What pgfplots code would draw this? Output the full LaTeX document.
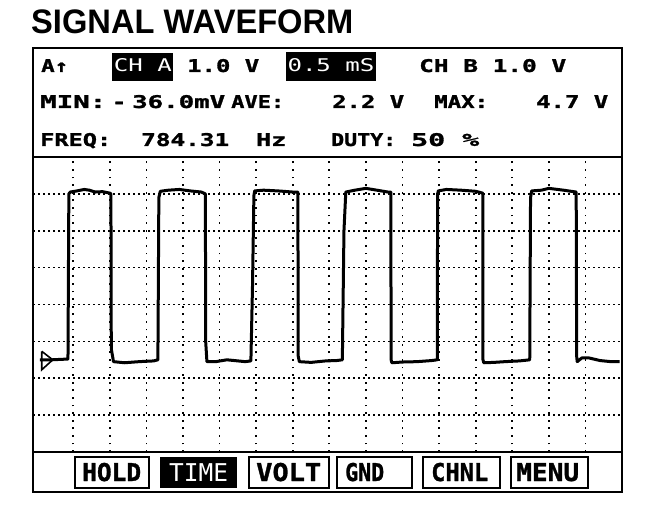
\documentclass[border=0pt]{standalone}
\usepackage{pgfplots}
\pgfplotsset{compat=1.18}
\usepackage{fontspec}
\setmainfont{Liberation Sans}
\newfontfamily\hdrb{DejaVu Sans Mono}[FakeBold=1.2]
\newfontfamily\hdr{DejaVu Sans Mono}
\newfontfamily\ttl{Liberation Sans}[FakeStretch=0.96]
% bold header chunk: width, text
\newcommand\HdT[2]{\resizebox{#1pt}{\height}{\hdrb\bfseries\fontsize{17.5}{17.5}\selectfont #2}}
\newcommand\HdW[2]{\resizebox{#1pt}{\height}{\hdr\fontsize{17.5}{17.5}\selectfont #2}}
\newcommand\BtT[2]{\resizebox{#1pt}{\height}{\hdrb\bfseries\fontsize{24.5}{24.5}\selectfont #2}}
\newcommand\BtW[2]{\resizebox{#1pt}{\height}{\hdr\fontsize{24.5}{24.5}\selectfont #2}}
\begin{document}
\begin{tikzpicture}
\useasboundingbox (0,0) rectangle (672pt,-526pt);
% title
\node[anchor=base west, inner sep=0pt] at (31pt,-34pt) {\ttl\bfseries\fontsize{34}{34}\selectfont SIGNAL WAVEFORM};
% outer frame
\draw[line width=2.8pt] (33pt,-48pt) rectangle (622pt,-492pt);
% header inverted boxes
\fill[black] (112pt,-53pt) rectangle (173pt,-81pt);
\fill[black] (286pt,-52pt) rectangle (376pt,-81pt);
% header row 1
\node[anchor=base west, inner sep=0pt] at (41pt,-72pt) {\HdT{27}{A↑}};
\node[anchor=base, inner sep=0pt, text=white] at (143pt,-72pt) {\HdW{58}{CH A}};
\node[anchor=base west, inner sep=0pt] at (187pt,-72pt) {\HdT{72}{1.0 V}};
\node[anchor=base, inner sep=0pt, text=white] at (331pt,-72pt) {\HdW{87}{0.5 mS}};
\node[anchor=base west, inner sep=0pt] at (419pt,-72pt) {\HdT{147}{CH B 1.0 V}};
% header row 2
\node[anchor=base west, inner sep=0pt] at (40pt,-108pt) {\HdT{66}{MIN:}};
\node[anchor=base west, inner sep=0pt] at (112pt,-108pt) {\HdT{14}{-}};
\node[anchor=base west, inner sep=0pt] at (132pt,-108pt) {\HdT{93}{36.0mV}};
\node[anchor=base west, inner sep=0pt] at (231pt,-108pt) {\HdT{53}{AVE:}};
\node[anchor=base west, inner sep=0pt] at (332pt,-108pt) {\HdT{72}{2.2 V}};
\node[anchor=base west, inner sep=0pt] at (434pt,-108pt) {\HdT{54}{MAX:}};
\node[anchor=base west, inner sep=0pt] at (536pt,-108pt) {\HdT{72}{4.7 V}};
% header row 3
\node[anchor=base west, inner sep=0pt] at (40pt,-146pt) {\HdT{71}{FREQ:}};
\node[anchor=base west, inner sep=0pt] at (141pt,-146pt) {\HdT{88}{784.31}};
\node[anchor=base west, inner sep=0pt] at (256pt,-146pt) {\HdT{30}{Hz}};
\node[anchor=base west, inner sep=0pt] at (331pt,-146pt) {\HdT{65}{DUTY:}};
\node[anchor=base west, inner sep=0pt] at (411pt,-146pt) {\HdT{68}{50 \%}};
% waveform grid
\begin{axis}[at={(33pt,-157pt)}, anchor=north west,
  width=589pt, height=295pt, scale only axis,
  xmin=-0.05, xmax=8.0, ymin=-2.5, ymax=5.5,
  xtick={0.5,1,...,7.5}, ytick={-1.5,-0.5,...,4.5},
  xticklabels={}, yticklabels={}, major tick length=0pt,
  grid=major,
  x grid style={black, line width=1.7pt, dash pattern=on 1.8pt off 5.8pt},
  y grid style={black, line width=1.7pt, dash pattern=on 1.8pt off 3.2pt},
  axis line style={line width=2.4pt},
  clip=false]
\addplot[black, line width=1.6pt, line join=miter] coordinates {
(0.07,0.23) (0.22,0.0) (0.07,-0.27) (0.07,0.23)};
\addplot[black, line width=3pt, line join=round] coordinates {
(0.045,0.0) (0.2,0.0) (0.42,0.02) (0.428,0.02) (0.44,4.5) (0.46,4.55) (0.55,4.58) (0.65,4.62) (0.72,4.6) (0.8,4.55) (0.9,4.56) (1.0,4.52) (1.015,4.5)
(1.02,0.3) (1.05,-0.05) (1.2,-0.08) (1.4,-0.05) (1.6,-0.03) (1.657,0.0)
(1.67,4.4) (1.69,4.57) (1.8,4.6) (1.95,4.62) (2.1,4.58) (2.25,4.55) (2.306,4.5)
(2.31,0.5) (2.327,-0.05) (2.45,-0.05) (2.6,0.0) (2.7,-0.02) (2.85,-0.05) (2.928,-0.03)
(2.95,2.0) (2.969,4.45) (2.98,4.58) (3.1,4.6) (3.3,4.58) (3.5,4.55) (3.57,4.55)
(3.575,0.1) (3.59,-0.05) (3.75,-0.07) (3.95,-0.03) (4.1,-0.02) (4.178,0.0)
(4.2,3.5) (4.225,4.55) (4.35,4.6) (4.5,4.65) (4.65,4.6) (4.8,4.55) (4.84,4.55)
(4.845,0.0) (4.854,-0.08) (5.0,-0.06) (5.2,-0.05) (5.4,-0.02) (5.475,0.0)
(5.48,4.5) (5.489,4.58) (5.6,4.62) (5.8,4.6) (6.0,4.57) (6.097,4.52)
(6.1,0.0) (6.111,-0.08) (6.25,-0.07) (6.4,-0.05) (6.6,-0.03) (6.739,0.0)
(6.75,4.4) (6.766,4.58) (6.9,4.6) (7.0,4.65) (7.2,4.6) (7.374,4.55)
(7.38,0.1) (7.388,-0.05) (7.45,0.05) (7.55,0.05) (7.7,-0.02) (7.85,-0.05) (7.969,-0.05)};
\end{axis}
% buttons
\draw[line width=2.2pt] (75pt,-456.7pt) rectangle (149.3pt,-487.7pt);
\fill[black] (160pt,-456.7pt) rectangle (236.7pt,-487.7pt);
\draw[line width=2.2pt] (249.3pt,-456.7pt) rectangle (329.3pt,-487.7pt);
\draw[line width=2.2pt] (336.7pt,-456.7pt) rectangle (411.7pt,-487.7pt);
\draw[line width=2.2pt] (423.3pt,-456.7pt) rectangle (500pt,-487.7pt);
\draw[line width=2.2pt] (510.7pt,-456.7pt) rectangle (588.3pt,-487.7pt);
\node[anchor=base west, inner sep=0pt] at (82pt,-481pt) {\BtT{59}{HOLD}};
\node[anchor=base west, inner sep=0pt, text=white] at (169pt,-481pt) {\BtW{59}{TIME}};
\node[anchor=base west, inner sep=0pt] at (256pt,-481pt) {\BtT{65}{VOLT}};
\node[anchor=base west, inner sep=0pt] at (345pt,-481pt) {\BtT{39}{GND}};
\node[anchor=base west, inner sep=0pt] at (431pt,-481pt) {\BtT{57}{CHNL}};
\node[anchor=base west, inner sep=0pt] at (516pt,-481pt) {\BtT{63}{MENU}};
\end{tikzpicture}
\end{document}
